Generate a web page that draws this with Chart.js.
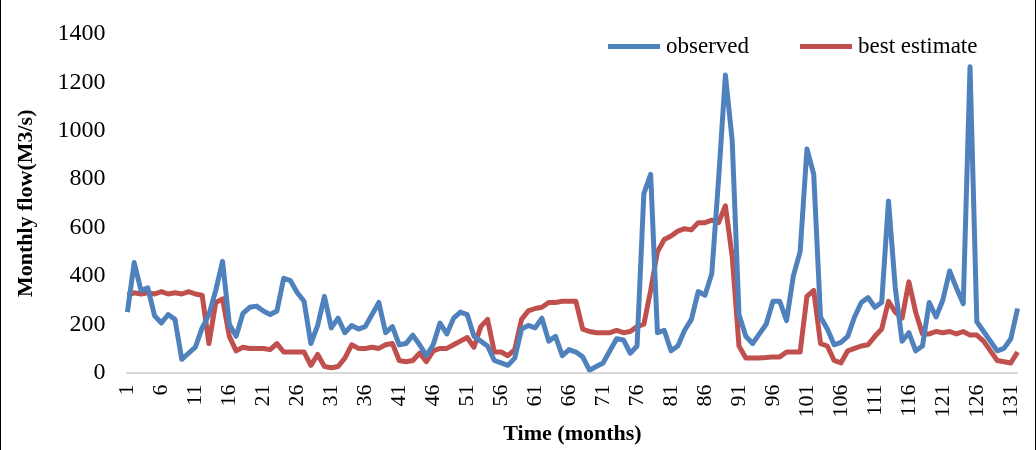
<!DOCTYPE html>
<html><head><meta charset="utf-8">
<script src="https://cdn.jsdelivr.net/npm/chart.js@4"></script>
<style>
  html,body{margin:0;background:#fff;}
  #wrap{position:relative;width:1036px;height:450px;overflow:hidden;box-sizing:border-box;border-left:1px solid #000;border-right:1px solid #000;}
  .lg{position:absolute;top:33px;font:23px 'Liberation Serif',serif;color:#000;display:flex;align-items:center;}
  .lg i{display:inline-block;width:52px;height:5px;margin-right:6px;}
</style></head>
<body><div id="wrap"><canvas id="c" width="1047" height="450"></canvas>
<div class="lg" style="left:607px"><i style="background:#4F81BD"></i>observed</div>
<div class="lg" style="left:799px"><i style="background:#C0504D"></i>best estimate</div>
</div>
<script>
const months = Array.from({length: 132}, (_, i) => String(i + 1));
const observed = [250,455,340,350,235,205,240,220,55,80,105,185,240,340,460,200,150,245,270,275,
  255,240,255,390,380,330,295,120,195,315,185,225,165,195,180,190,240,290,165,190,
  115,120,155,115,70,115,205,160,225,250,240,150,130,110,50,40,30,60,180,195,
  185,225,130,150,70,95,85,65,10,25,40,90,140,135,80,110,740,820,165,175,
  90,110,175,220,335,320,410,800,1230,960,240,150,120,160,200,295,295,215,400,500,
  925,820,230,180,115,125,150,230,290,310,270,290,710,350,130,165,90,110,290,230,
  300,420,350,285,1265,210,170,130,90,100,140,265];
const bestEstimate = [320,330,325,330,325,335,325,330,325,335,325,320,120,290,305,150,90,105,100,100,
  100,95,120,85,85,85,85,30,75,25,20,25,60,115,100,100,105,100,115,120,
  50,45,50,80,45,90,100,100,115,130,145,105,190,220,85,85,70,95,220,255,
  265,270,290,290,295,295,295,180,170,165,165,165,175,165,170,190,200,340,500,550,
  565,585,595,590,620,620,630,620,690,480,110,60,60,60,62,65,65,85,85,85,
  315,340,120,110,50,40,90,100,110,115,150,180,295,250,225,375,250,160,160,170,
  165,170,160,170,155,155,130,90,50,45,40,85];
const yTicks = [0,200,400,600,800,1000,1200,1400];

const serif = "'Liberation Serif', serif";
new Chart(document.getElementById('c'), {
  type: 'line',
  data: { labels: months, datasets: [
    { label: 'observed', data: observed, borderColor: '#4F81BD', borderWidth: 5, pointRadius: 0, tension: 0, borderJoinStyle: 'round' },
    { label: 'best estimate', data: bestEstimate, borderColor: '#C0504D', borderWidth: 5, pointRadius: 0, tension: 0, borderJoinStyle: 'round' },
  ] },
  options: {
    responsive: false, animation: false,
    layout: { padding: { top: 34, right: 0, left: 8, bottom: 2 } },
    scales: {
      x: {
        offset: false,
        grid: { display: false }, border: { color: '#D9D9D9', width: 2 },
        ticks: { autoSkip: false, minRotation: 90, maxRotation: 90, color: '#000', padding: 4,
          font: { family: serif, size: 22 },
          callback: (v, i) => i % 5 === 0 ? months[i] : '' },
        title: { display: true, text: 'Time (months)', color: '#000', padding: 0,
          font: { family: serif, size: 22, weight: 'bold' } },
      },
      y: {
        min: 0, max: 1400,
        afterBuildTicks: ax => { ax.ticks = yTicks.map(v => ({ value: v })); },
        grid: { display: false }, border: { display: false },
        ticks: { color: '#000', padding: 14, font: { family: serif, size: 24 }, callback: v => String(v) },
        title: { display: true, text: 'Monthly flow(M3/s)', color: '#000', padding: 4,
          font: { family: serif, size: 22, weight: 'bold' } },
      },
    },
    plugins: { legend: { display: false }, tooltip: { enabled: false } },
  },
});
</script></body></html>
